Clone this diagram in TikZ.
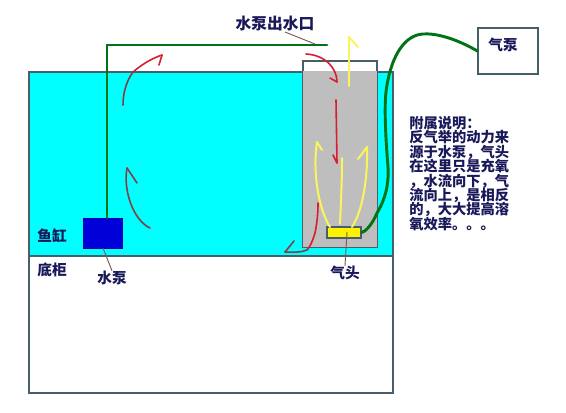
\documentclass[tikz,border=0pt]{standalone}
\usepackage{fontspec}
\newfontfamily\cjk{Noto Sans CJK SC}
\usetikzlibrary{arrows.meta,positioning}
\definecolor{tankcyan}{RGB}{0,255,255}
\definecolor{towergray}{RGB}{190,190,190}
\definecolor{pipegreen}{RGB}{0,115,20}
\definecolor{edgegray}{RGB}{70,95,105}
\definecolor{inkblue}{RGB}{25,25,90}
\definecolor{flowred}{RGB}{215,30,45}
\definecolor{flowbrown}{RGB}{125,65,70}
\definecolor{flowyellow}{RGB}{250,245,90}
\setlength{\lineskiplimit}{-5pt}

\begin{document}
\begin{tikzpicture}[
  x=0.75pt, y=-0.75pt,
  outline/.style={draw=edgegray, line width=0.9pt},
  label/.style={font=\cjk\fontsize{11}{11}\selectfont\bfseries, text=inkblue, inner sep=0pt},
  pipe/.style={draw=pipegreen, line width=2.2pt, line cap=round},
  leader/.style={draw=flowbrown!70!gray, line width=0.7pt},
  redflow/.style={draw=flowred, line width=1.2pt, line cap=round},
  brownflow/.style={draw=flowbrown, line width=1.2pt, line cap=round},
  yellowflow/.style={draw=flowyellow, line width=1.5pt, line cap=round}
]
\useasboundingbox (0,0) rectangle (566,412);

%% Tank, cabinet and lift tube
\node[outline, fill=white, minimum width=364*0.75pt, minimum height=137*0.75pt, inner sep=0pt] (cabinet) at (211,324.5) {};
\node[outline, fill=tankcyan, minimum width=364*0.75pt, minimum height=184*0.75pt, inner sep=0pt] (tank) at (211,164) {};
\node[outline, minimum width=74*0.75pt, minimum height=186*0.75pt, inner sep=0pt] (tube) at (340,154) {};
\fill[towergray] (tube.west |- tank.north) rectangle (tube.south east);
\draw[outline] (tube.north west) rectangle (tube.south east);

%% Pumps and air stone
\node[draw=blue!70!black, fill=blue!85!black, minimum width=39*0.75pt, minimum height=30*0.75pt, inner sep=0pt] (pump) at (102.5,233) {};
\node[outline, fill=yellow, minimum width=34*0.75pt, minimum height=11*0.75pt, inner sep=0pt] (stone) at (344,232.5) {};
\node[outline, minimum width=60*0.75pt, minimum height=46*0.75pt, inner sep=0pt] (airpump) at (508,51) {};

%% Pipes
\coordinate (outlet) at (327,45);
\draw[pipe] (107,218) -- (107,45) -- (outlet);
\draw[pipe] (airpump.west) .. controls (455,38) and (435,33) .. (423,34)
  .. controls (405,35) and (392,55) .. (387,85)
  .. controls (384,100) and (385,130) .. (388,167)
  .. controls (389,185) and (385,200) .. (377,213)
  .. controls (372,225) and (365,232) .. (stone.east);

%% Labels
\node[label, font=\cjk\fontsize{11.8}{11.8}\selectfont\bfseries] (outletlabel) at (275,24) {水泵出水口};
\node[label] (airpumplabel) at (503,45) {气泵};
\node[label] (tanklabel) at (52,236) {鱼缸};
\node[label] (cabinetlabel) at (52,270) {底柜};
\node[label] (pumplabel) at (112,278) {水泵};
\node[label] (stonelabel) at (345,273) {气头};
\node[label, align=left, anchor=north west, font=\cjk\fontsize{10.7}{10.8}\selectfont\bfseries] (notes) at (409,116)
  {附属说明：\\反气举的动力来\\源于水泵，气头\\在这里只是充氧\\，水流向下，气\\流向上，是相反\\的，大大提高溶\\氧效率。。。};

%% Leader lines
\coordinate (outlettip) at (315,44);
\draw[leader] (285,32) -- (outlettip);
\draw[leader] (103,248) -- (pumplabel.north);
\draw[leader] (347,232) -- (stonelabel.north);

%% Water flow
\draw[redflow] (162,55) .. controls (150,59) and (140,66) .. (133,72);
\draw[redflow] (162,55) -- (159,65);
\draw[brownflow] (133,72) .. controls (127,80) and (123,92) .. (123,105);
\draw[brownflow] (127,168) .. controls (123,190) and (133,220) .. (150,228);
\draw[brownflow] (127,168) -- (137,183);
\draw[redflow] (306,54) .. controls (325,55) and (337,68) .. (337,82);
\draw[redflow] (337,82) -- (330,78);
\draw[redflow] (336,100) -- (337,163);
\draw[redflow] (337,163) -- (333,155);
\draw[redflow] (318,203) .. controls (318,218) and (316,228) .. (315,233)
  .. controls (313,240) and (310,247) .. (307,250);
\draw[brownflow] (307,250) .. controls (300,253) and (292,252) .. (285,252);
\draw[brownflow] (285,252) -- (294,241);

%% Air flow
\draw[yellowflow] (349,86) -- (349,37);
\draw[yellowflow] (349,37) -- (358,47);
\draw[yellowflow] (330,227) .. controls (320,212) and (312,175) .. (317,142);
\draw[yellowflow] (317,142) -- (322,150);
\draw[yellowflow] (340,224) .. controls (341,200) and (342,180) .. (342,158);
\draw[yellowflow] (352,227) .. controls (362,212) and (368,180) .. (367,147);
\draw[yellowflow] (367,147) -- (358,159);
\end{tikzpicture}
\end{document}
